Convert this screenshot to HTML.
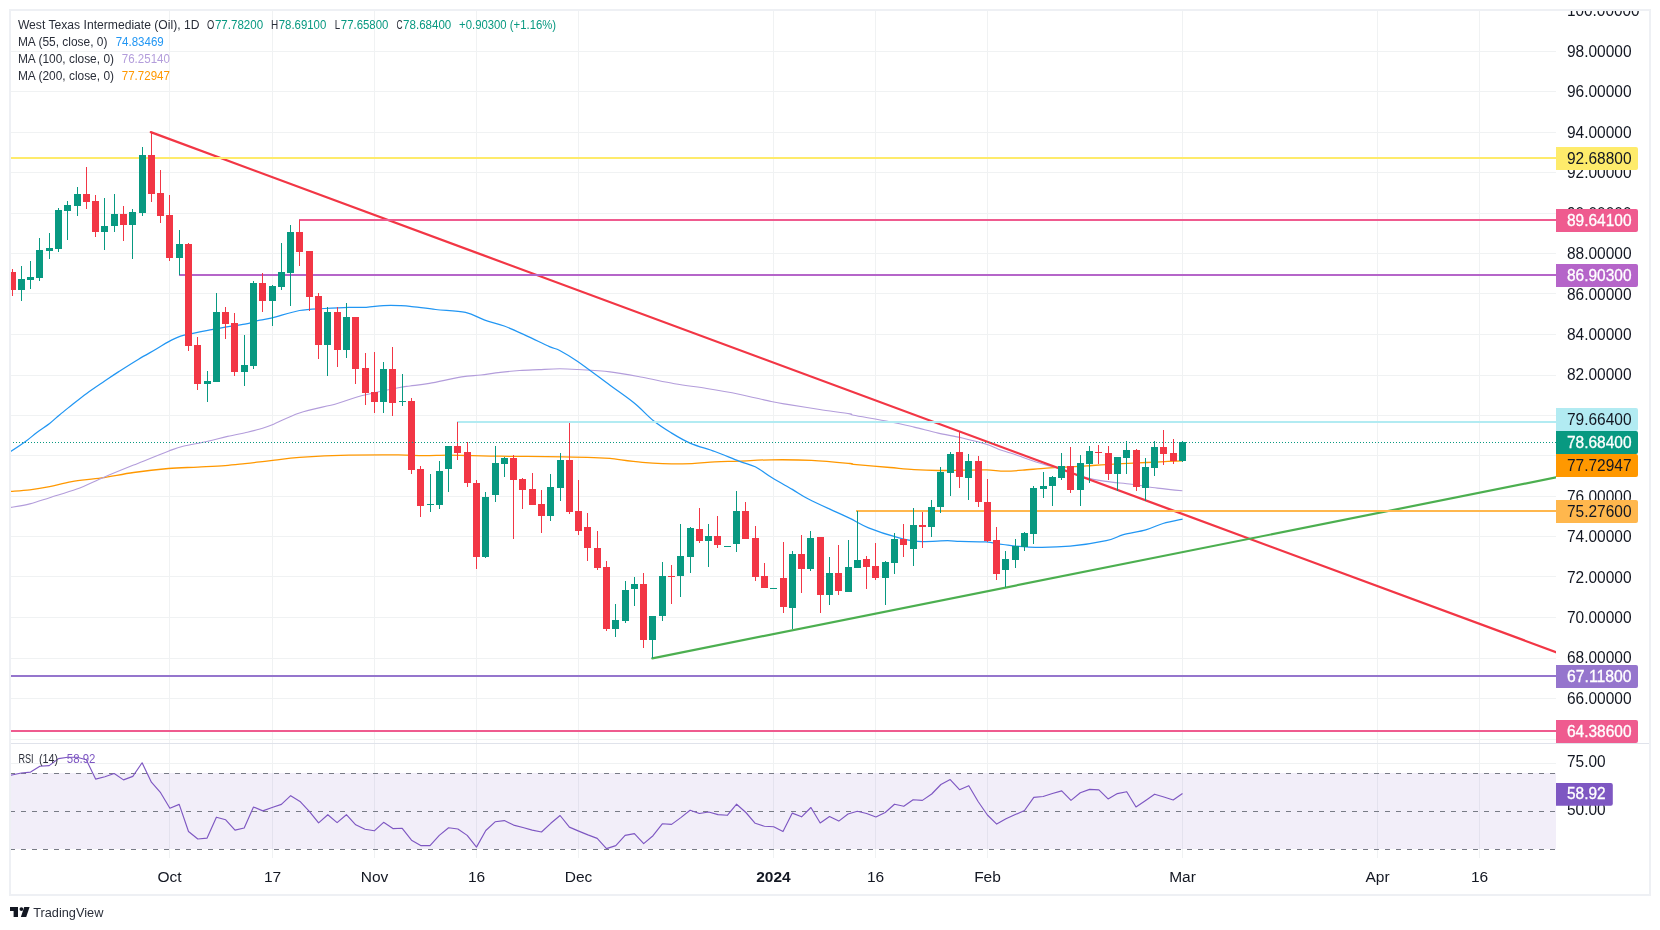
<!DOCTYPE html><html><head><meta charset="utf-8"><style>html,body{margin:0;padding:0;background:#fff;width:1660px;height:930px;overflow:hidden}svg{display:block;will-change:transform}text{font-family:"Liberation Sans", sans-serif}</style></head><body>
<svg width="1660" height="930" viewBox="0 0 1660 930" shape-rendering="crispEdges">
<rect x="0" y="0" width="1660" height="930" fill="#ffffff"/>
<defs>
<clipPath id="cpMain"><rect x="11" y="11" width="1545" height="732"/></clipPath>
<clipPath id="cpAxis"><rect x="1556" y="11" width="93" height="732"/></clipPath>
<clipPath id="cpRsi"><rect x="11" y="744" width="1545" height="114"/></clipPath>
</defs>
<rect x="11" y="739" width="1545" height="1" fill="#f0f2f3"/><rect x="11" y="698" width="1545" height="1" fill="#f0f2f3"/><rect x="11" y="658" width="1545" height="1" fill="#f0f2f3"/><rect x="11" y="617" width="1545" height="1" fill="#f0f2f3"/><rect x="11" y="576" width="1545" height="1" fill="#f0f2f3"/><rect x="11" y="536" width="1545" height="1" fill="#f0f2f3"/><rect x="11" y="496" width="1545" height="1" fill="#f0f2f3"/><rect x="11" y="455" width="1545" height="1" fill="#f0f2f3"/><rect x="11" y="415" width="1545" height="1" fill="#f0f2f3"/><rect x="11" y="375" width="1545" height="1" fill="#f0f2f3"/><rect x="11" y="334" width="1545" height="1" fill="#f0f2f3"/><rect x="11" y="293" width="1545" height="1" fill="#f0f2f3"/><rect x="11" y="253" width="1545" height="1" fill="#f0f2f3"/><rect x="11" y="213" width="1545" height="1" fill="#f0f2f3"/><rect x="11" y="172" width="1545" height="1" fill="#f0f2f3"/><rect x="11" y="132" width="1545" height="1" fill="#f0f2f3"/><rect x="11" y="91" width="1545" height="1" fill="#f0f2f3"/><rect x="11" y="51" width="1545" height="1" fill="#f0f2f3"/><rect x="169" y="11" width="1" height="732" fill="#f0f2f3"/><rect x="169" y="744" width="1" height="114" fill="#f0f2f3"/><rect x="272" y="11" width="1" height="732" fill="#f0f2f3"/><rect x="272" y="744" width="1" height="114" fill="#f0f2f3"/><rect x="374" y="11" width="1" height="732" fill="#f0f2f3"/><rect x="374" y="744" width="1" height="114" fill="#f0f2f3"/><rect x="476" y="11" width="1" height="732" fill="#f0f2f3"/><rect x="476" y="744" width="1" height="114" fill="#f0f2f3"/><rect x="578" y="11" width="1" height="732" fill="#f0f2f3"/><rect x="578" y="744" width="1" height="114" fill="#f0f2f3"/><rect x="773" y="11" width="1" height="732" fill="#f0f2f3"/><rect x="773" y="744" width="1" height="114" fill="#f0f2f3"/><rect x="875" y="11" width="1" height="732" fill="#f0f2f3"/><rect x="875" y="744" width="1" height="114" fill="#f0f2f3"/><rect x="987" y="11" width="1" height="732" fill="#f0f2f3"/><rect x="987" y="744" width="1" height="114" fill="#f0f2f3"/><rect x="1182" y="11" width="1" height="732" fill="#f0f2f3"/><rect x="1182" y="744" width="1" height="114" fill="#f0f2f3"/><rect x="1377" y="11" width="1" height="732" fill="#f0f2f3"/><rect x="1377" y="744" width="1" height="114" fill="#f0f2f3"/><rect x="1479" y="11" width="1" height="732" fill="#f0f2f3"/><rect x="1479" y="744" width="1" height="114" fill="#f0f2f3"/><rect x="11" y="763" width="1545" height="1" fill="#f0f2f3"/>
<g clip-path="url(#cpMain)">
<g shape-rendering="geometricPrecision" fill="none" stroke-linejoin="round">
<path d="M10.0,491.5 C13.3,491.2 23.2,490.6 29.8,489.8 C36.4,489.0 42.6,488.0 49.6,486.6 C56.6,485.2 63.1,483.1 71.8,481.6 C80.5,480.2 91.2,479.4 101.5,477.9 C111.8,476.4 122.5,474.1 133.6,472.5 C144.7,470.9 157.6,469.4 168.3,468.5 C179.0,467.6 188.4,467.6 197.9,467.1 C207.4,466.6 217.3,466.2 225.1,465.6 C232.9,465.0 239.1,464.2 244.9,463.6 C250.7,463.0 255.0,462.5 260.0,461.9 C265.0,461.3 268.1,460.9 274.7,460.1 C281.3,459.4 287.1,458.2 299.5,457.4 C311.9,456.6 332.4,455.6 348.9,455.2 C365.4,454.8 386.0,454.8 398.4,454.9 C410.8,455.0 414.9,455.6 423.1,455.7 C431.3,455.8 439.6,455.2 447.8,455.2 C456.1,455.2 463.9,455.5 472.6,455.7 C481.3,455.9 490.9,456.1 500.0,456.2 C509.1,456.3 516.4,456.3 527.1,456.4 C537.8,456.5 553.1,456.7 564.2,456.9 C575.3,457.1 586.3,457.4 593.9,457.7 C601.5,457.9 601.9,457.6 610.0,458.4 C618.1,459.2 630.2,461.4 642.3,462.3 C654.4,463.2 670.5,464.0 682.6,463.9 C694.7,463.8 705.4,462.4 714.8,461.9 C724.2,461.4 729.6,461.5 739.0,461.1 C748.4,460.8 759.2,459.9 771.3,459.8 C783.4,459.7 798.5,459.7 811.6,460.3 C824.7,460.9 843.0,462.8 850.0,463.5 C857.0,464.2 846.9,463.6 853.6,464.3 C860.3,465.0 879.9,466.6 890.0,467.5 C900.1,468.4 906.1,469.1 914.1,469.6 C922.1,470.1 930.2,470.4 938.2,470.5 C946.2,470.6 954.3,470.3 962.3,470.2 C970.3,470.1 979.4,469.8 986.4,469.9 C993.4,470.0 998.5,471.1 1004.5,471.1 C1010.5,471.2 1015.5,470.7 1022.5,470.2 C1029.5,469.7 1038.0,468.7 1046.6,468.1 C1055.2,467.5 1066.7,467.1 1074.3,466.7 C1081.9,466.3 1086.4,465.9 1092.4,465.5 C1098.4,465.1 1104.5,464.7 1110.5,464.3 C1116.5,463.9 1122.6,463.6 1128.6,463.3 C1134.6,463.0 1140.6,462.8 1146.6,462.5 C1152.6,462.2 1158.7,461.9 1164.7,461.6 C1170.7,461.3 1179.5,461.0 1182.4,460.9" stroke="#ff9800" stroke-width="1.3"/>
<path d="M10.0,507.6 C13.3,507.0 23.2,505.5 29.8,503.9 C36.4,502.2 41.8,500.2 49.6,497.7 C57.4,495.2 67.7,492.5 76.8,489.1 C85.9,485.7 94.5,481.2 104.0,477.2 C113.5,473.2 122.9,469.4 133.6,465.1 C144.3,460.8 160.1,454.3 168.3,451.2 C176.6,448.1 176.5,447.9 183.1,446.3 C189.7,444.7 200.4,443.0 207.8,441.3 C215.2,439.6 221.0,437.9 227.6,436.4 C234.2,434.9 242.0,433.4 247.4,432.2 C252.8,431.0 255.8,430.2 260.0,429.0 C264.1,427.8 265.7,427.5 272.3,424.8 C278.9,422.1 288.8,416.4 299.5,412.9 C310.2,409.4 326.2,406.5 336.5,403.7 C346.8,400.9 351.0,398.5 361.3,395.8 C371.6,393.1 390.3,389.3 398.4,387.7 C406.5,386.1 404.8,386.7 410.0,386.0 C415.2,385.3 420.8,384.9 429.4,383.4 C438.0,381.9 453.0,378.3 461.6,376.9 C470.2,375.5 474.6,375.8 481.0,375.0 C487.4,374.2 493.9,373.1 500.3,372.4 C506.8,371.6 513.2,371.0 519.7,370.5 C526.2,370.0 532.3,369.9 539.0,369.6 C545.7,369.3 553.2,368.8 559.7,368.8 C566.2,368.8 569.3,369.0 577.7,369.5 C586.1,370.0 599.2,370.6 610.0,371.9 C620.8,373.2 631.5,375.3 642.3,377.3 C653.0,379.3 663.8,381.8 674.5,383.7 C685.2,385.6 696.0,386.8 706.8,388.5 C717.5,390.2 728.2,392.0 739.0,394.2 C749.8,396.4 763.2,399.8 771.3,401.5 C779.4,403.2 779.3,403.1 787.4,404.4 C795.5,405.7 809.3,407.9 819.7,409.5 C830.1,411.1 844.4,412.9 850.0,413.9 C855.6,414.9 846.9,414.0 853.6,415.3 C860.3,416.6 879.9,419.7 890.0,421.7 C900.1,423.7 906.1,425.2 914.1,427.1 C922.1,429.0 930.2,431.3 938.2,433.1 C946.2,434.9 954.3,436.1 962.3,438.0 C970.3,439.9 980.4,442.4 986.4,444.3 C992.4,446.2 994.4,447.8 998.4,449.2 C1002.4,450.6 1006.5,451.7 1010.5,453.0 C1014.5,454.3 1018.5,455.8 1022.5,457.2 C1026.5,458.6 1030.6,460.1 1034.6,461.4 C1038.6,462.7 1042.6,463.9 1046.6,465.1 C1050.6,466.3 1052.5,466.4 1058.7,468.4 C1064.9,470.4 1076.1,474.9 1083.9,477.1 C1091.8,479.3 1097.8,480.2 1105.8,481.4 C1113.8,482.6 1123.0,483.1 1131.6,484.2 C1140.2,485.3 1148.9,487.0 1157.4,488.1 C1165.9,489.2 1178.2,490.4 1182.4,490.8" stroke="#b39ddb" stroke-width="1.1"/>
<path d="M10.0,452.0 C12.5,450.4 20.3,445.4 24.8,442.1 C29.3,438.8 33.1,435.3 37.2,432.2 C41.3,429.1 45.9,426.4 49.6,423.5 C53.3,420.6 55.8,418.0 59.5,414.9 C63.2,411.8 67.3,408.6 71.8,405.0 C76.3,401.4 81.3,397.3 86.7,393.4 C92.1,389.5 98.7,385.1 104.0,381.5 C109.3,377.9 113.0,375.3 118.8,371.6 C124.6,367.9 132.4,362.9 138.6,359.2 C144.8,355.5 150.9,352.2 155.9,349.3 C160.9,346.4 164.2,344.1 168.3,341.9 C172.4,339.7 176.5,337.6 180.6,336.2 C184.7,334.8 188.5,334.3 193.0,333.3 C197.5,332.3 202.5,331.3 207.8,330.3 C213.2,329.3 218.9,328.1 225.1,327.1 C231.3,326.1 239.1,325.2 244.9,324.1 C250.7,323.0 255.4,321.2 260.0,320.2 C264.6,319.2 265.7,319.5 272.3,317.9 C278.9,316.3 290.9,312.1 299.5,310.5 C308.1,308.9 316.0,309.0 324.2,308.5 C332.4,308.0 341.9,307.5 348.9,307.3 C355.9,307.1 360.4,307.6 366.2,307.3 C372.0,307.0 377.7,305.9 383.5,305.6 C389.3,305.3 396.4,305.5 400.8,305.6 C405.2,305.7 404.2,305.8 410.0,306.4 C415.8,307.0 426.6,308.5 435.8,309.5 C445.1,310.5 457.3,310.6 465.5,312.4 C473.7,314.2 478.4,317.9 484.8,320.2 C491.2,322.5 497.3,323.4 504.2,326.0 C511.1,328.6 518.6,332.2 526.1,335.6 C533.6,339.0 543.8,344.1 549.4,346.6 C555.0,349.1 555.0,348.0 559.7,350.5 C564.4,353.0 569.3,355.7 577.7,361.5 C586.1,367.3 600.6,378.4 610.0,385.3 C619.4,392.2 627.0,397.2 634.2,403.1 C641.5,409.0 647.3,415.8 653.5,420.8 C659.7,425.8 665.1,429.1 671.3,432.9 C677.5,436.7 683.4,440.3 690.6,443.4 C697.9,446.5 706.7,448.6 714.8,451.5 C722.9,454.4 732.3,458.6 739.0,461.1 C745.7,463.7 749.8,464.1 755.2,466.8 C760.6,469.5 765.1,473.5 771.3,477.3 C777.5,481.1 786.1,485.8 792.3,489.4 C798.5,493.0 801.1,495.2 808.4,499.0 C815.6,502.8 828.9,508.7 835.8,511.9 C842.7,515.1 844.5,515.8 850.0,518.4 C855.5,521.0 860.5,524.6 868.5,527.8 C876.5,531.0 890.0,535.4 898.2,537.7 C906.4,540.0 909.7,540.9 917.9,541.4 C926.1,541.9 940.6,540.7 947.6,540.7 C954.6,540.7 953.6,541.2 960.0,541.4 C966.4,541.6 978.6,541.4 985.8,541.9 C993.0,542.4 995.8,543.6 1003.0,544.5 C1010.2,545.4 1017.6,546.8 1028.8,547.1 C1040.0,547.4 1057.2,547.3 1070.1,546.2 C1083.0,545.1 1097.3,542.6 1106.2,540.7 C1115.1,538.8 1116.8,536.5 1123.4,534.7 C1130.0,532.9 1139.2,531.8 1145.8,529.9 C1152.4,528.0 1156.9,525.3 1163.0,523.5 C1169.1,521.7 1179.3,519.8 1182.6,519.1" stroke="#2196f3" stroke-width="1.25"/>
</g>
<g shape-rendering="geometricPrecision">
<line x1="150.8" y1="132.2" x2="1556" y2="652.2" stroke="#f23645" stroke-width="2.3" stroke-linecap="round"/>
<line x1="652.3" y1="658.3" x2="1556" y2="477.4" stroke="#4caf50" stroke-width="2.2" stroke-linecap="round"/>
</g>
<rect x="11" y="157" width="1545" height="2" fill="#feeb6b"/>
<rect x="299" y="219" width="1257" height="2" fill="#ef5b8f"/>
<rect x="179" y="274" width="1377" height="2" fill="#b565c9"/>
<rect x="457" y="421" width="1099" height="2" fill="#b2ebf2"/>
<rect x="856" y="510" width="700" height="2" fill="#ffb74d"/>
<rect x="11" y="675" width="1545" height="2" fill="#9575cd"/>
<rect x="11" y="730" width="1545" height="2" fill="#ef5b8f"/>
<rect x="12" y="269" width="1" height="27" fill="#f23645"/><rect x="9" y="272" width="7" height="18" fill="#f23645"/><rect x="21" y="266" width="1" height="35" fill="#089981"/><rect x="18" y="279" width="7" height="11" fill="#089981"/><rect x="30" y="261" width="1" height="28" fill="#089981"/><rect x="27" y="277" width="7" height="3" fill="#089981"/><rect x="39" y="238" width="1" height="43" fill="#089981"/><rect x="36" y="250" width="7" height="28" fill="#089981"/><rect x="49" y="233" width="1" height="26" fill="#089981"/><rect x="46" y="248" width="7" height="3" fill="#089981"/><rect x="58" y="208" width="1" height="44" fill="#089981"/><rect x="55" y="210" width="7" height="39" fill="#089981"/><rect x="67" y="201" width="1" height="39" fill="#089981"/><rect x="64" y="205" width="7" height="6" fill="#089981"/><rect x="77" y="187" width="1" height="29" fill="#089981"/><rect x="74" y="194" width="7" height="12" fill="#089981"/><rect x="86" y="167" width="1" height="42" fill="#f23645"/><rect x="83" y="194" width="7" height="8" fill="#f23645"/><rect x="95" y="195" width="1" height="42" fill="#f23645"/><rect x="92" y="201" width="7" height="31" fill="#f23645"/><rect x="104" y="198" width="1" height="52" fill="#089981"/><rect x="101" y="226" width="7" height="6" fill="#089981"/><rect x="114" y="194" width="1" height="38" fill="#089981"/><rect x="111" y="214" width="7" height="12" fill="#089981"/><rect x="123" y="206" width="1" height="35" fill="#f23645"/><rect x="120" y="214" width="7" height="11" fill="#f23645"/><rect x="132" y="209" width="1" height="50" fill="#089981"/><rect x="129" y="212" width="7" height="13" fill="#089981"/><rect x="142" y="147" width="1" height="69" fill="#089981"/><rect x="139" y="155" width="7" height="58" fill="#089981"/><rect x="151" y="132" width="1" height="70" fill="#f23645"/><rect x="148" y="155" width="7" height="39" fill="#f23645"/><rect x="160" y="170" width="1" height="53" fill="#f23645"/><rect x="157" y="193" width="7" height="23" fill="#f23645"/><rect x="169" y="195" width="1" height="66" fill="#f23645"/><rect x="166" y="215" width="7" height="43" fill="#f23645"/><rect x="179" y="230" width="1" height="45" fill="#089981"/><rect x="176" y="244" width="7" height="14" fill="#089981"/><rect x="188" y="243" width="1" height="108" fill="#f23645"/><rect x="185" y="244" width="7" height="102" fill="#f23645"/><rect x="197" y="337" width="1" height="53" fill="#f23645"/><rect x="194" y="345" width="7" height="39" fill="#f23645"/><rect x="207" y="371" width="1" height="31" fill="#089981"/><rect x="204" y="381" width="7" height="3" fill="#089981"/><rect x="216" y="293" width="1" height="89" fill="#089981"/><rect x="213" y="312" width="7" height="70" fill="#089981"/><rect x="225" y="307" width="1" height="32" fill="#f23645"/><rect x="222" y="312" width="7" height="12" fill="#f23645"/><rect x="234" y="313" width="1" height="63" fill="#f23645"/><rect x="231" y="323" width="7" height="49" fill="#f23645"/><rect x="244" y="335" width="1" height="51" fill="#089981"/><rect x="241" y="365" width="7" height="7" fill="#089981"/><rect x="253" y="281" width="1" height="88" fill="#089981"/><rect x="250" y="283" width="7" height="83" fill="#089981"/><rect x="262" y="273" width="1" height="39" fill="#f23645"/><rect x="259" y="283" width="7" height="18" fill="#f23645"/><rect x="272" y="285" width="1" height="41" fill="#089981"/><rect x="269" y="286" width="7" height="15" fill="#089981"/><rect x="281" y="243" width="1" height="47" fill="#089981"/><rect x="278" y="272" width="7" height="15" fill="#089981"/><rect x="290" y="225" width="1" height="81" fill="#089981"/><rect x="287" y="232" width="7" height="41" fill="#089981"/><rect x="299" y="220" width="1" height="46" fill="#f23645"/><rect x="296" y="232" width="7" height="20" fill="#f23645"/><rect x="309" y="251" width="1" height="60" fill="#f23645"/><rect x="306" y="251" width="7" height="46" fill="#f23645"/><rect x="318" y="293" width="1" height="66" fill="#f23645"/><rect x="315" y="296" width="7" height="49" fill="#f23645"/><rect x="327" y="307" width="1" height="69" fill="#089981"/><rect x="324" y="312" width="7" height="33" fill="#089981"/><rect x="337" y="307" width="1" height="60" fill="#f23645"/><rect x="334" y="312" width="7" height="38" fill="#f23645"/><rect x="346" y="303" width="1" height="55" fill="#089981"/><rect x="343" y="317" width="7" height="33" fill="#089981"/><rect x="355" y="317" width="1" height="67" fill="#f23645"/><rect x="352" y="317" width="7" height="52" fill="#f23645"/><rect x="365" y="353" width="1" height="52" fill="#f23645"/><rect x="362" y="368" width="7" height="25" fill="#f23645"/><rect x="374" y="352" width="1" height="61" fill="#f23645"/><rect x="371" y="392" width="7" height="10" fill="#f23645"/><rect x="383" y="362" width="1" height="51" fill="#089981"/><rect x="380" y="369" width="7" height="33" fill="#089981"/><rect x="392" y="347" width="1" height="69" fill="#f23645"/><rect x="389" y="369" width="7" height="34" fill="#f23645"/><rect x="402" y="374" width="1" height="32" fill="#089981"/><rect x="399" y="401" width="7" height="1" fill="#089981"/><rect x="411" y="398" width="1" height="76" fill="#f23645"/><rect x="408" y="401" width="7" height="69" fill="#f23645"/><rect x="420" y="466" width="1" height="51" fill="#f23645"/><rect x="417" y="469" width="7" height="37" fill="#f23645"/><rect x="430" y="474" width="1" height="38" fill="#089981"/><rect x="427" y="504" width="7" height="1" fill="#089981"/><rect x="439" y="461" width="1" height="48" fill="#089981"/><rect x="436" y="471" width="7" height="34" fill="#089981"/><rect x="448" y="446" width="1" height="46" fill="#089981"/><rect x="445" y="446" width="7" height="23" fill="#089981"/><rect x="457" y="422" width="1" height="38" fill="#f23645"/><rect x="454" y="446" width="7" height="7" fill="#f23645"/><rect x="467" y="442" width="1" height="45" fill="#f23645"/><rect x="464" y="452" width="7" height="31" fill="#f23645"/><rect x="476" y="480" width="1" height="89" fill="#f23645"/><rect x="473" y="483" width="7" height="74" fill="#f23645"/><rect x="485" y="492" width="1" height="66" fill="#089981"/><rect x="482" y="497" width="7" height="60" fill="#089981"/><rect x="495" y="446" width="1" height="56" fill="#089981"/><rect x="492" y="463" width="7" height="32" fill="#089981"/><rect x="504" y="457" width="1" height="20" fill="#089981"/><rect x="501" y="458" width="7" height="6" fill="#089981"/><rect x="513" y="455" width="1" height="84" fill="#f23645"/><rect x="510" y="458" width="7" height="22" fill="#f23645"/><rect x="522" y="478" width="1" height="31" fill="#f23645"/><rect x="519" y="479" width="7" height="11" fill="#f23645"/><rect x="532" y="473" width="1" height="32" fill="#f23645"/><rect x="529" y="489" width="7" height="16" fill="#f23645"/><rect x="541" y="490" width="1" height="43" fill="#f23645"/><rect x="538" y="504" width="7" height="12" fill="#f23645"/><rect x="550" y="474" width="1" height="47" fill="#089981"/><rect x="547" y="487" width="7" height="29" fill="#089981"/><rect x="560" y="453" width="1" height="48" fill="#089981"/><rect x="557" y="460" width="7" height="28" fill="#089981"/><rect x="569" y="423" width="1" height="91" fill="#f23645"/><rect x="566" y="460" width="7" height="52" fill="#f23645"/><rect x="578" y="480" width="1" height="55" fill="#f23645"/><rect x="575" y="511" width="7" height="20" fill="#f23645"/><rect x="587" y="513" width="1" height="48" fill="#f23645"/><rect x="584" y="527" width="7" height="21" fill="#f23645"/><rect x="597" y="531" width="1" height="39" fill="#f23645"/><rect x="594" y="548" width="7" height="20" fill="#f23645"/><rect x="606" y="561" width="1" height="70" fill="#f23645"/><rect x="603" y="567" width="7" height="62" fill="#f23645"/><rect x="615" y="604" width="1" height="33" fill="#089981"/><rect x="612" y="620" width="7" height="9" fill="#089981"/><rect x="625" y="581" width="1" height="42" fill="#089981"/><rect x="622" y="590" width="7" height="31" fill="#089981"/><rect x="634" y="577" width="1" height="29" fill="#089981"/><rect x="631" y="584" width="7" height="5" fill="#089981"/><rect x="643" y="573" width="1" height="75" fill="#f23645"/><rect x="640" y="584" width="7" height="56" fill="#f23645"/><rect x="652" y="616" width="1" height="42" fill="#089981"/><rect x="649" y="616" width="7" height="24" fill="#089981"/><rect x="662" y="562" width="1" height="59" fill="#089981"/><rect x="659" y="576" width="7" height="40" fill="#089981"/><rect x="671" y="565" width="1" height="39" fill="#f23645"/><rect x="668" y="576" width="7" height="1" fill="#f23645"/><rect x="680" y="524" width="1" height="73" fill="#089981"/><rect x="677" y="556" width="7" height="20" fill="#089981"/><rect x="690" y="527" width="1" height="46" fill="#089981"/><rect x="687" y="528" width="7" height="29" fill="#089981"/><rect x="699" y="508" width="1" height="35" fill="#f23645"/><rect x="696" y="529" width="7" height="12" fill="#f23645"/><rect x="708" y="524" width="1" height="43" fill="#089981"/><rect x="705" y="536" width="7" height="5" fill="#089981"/><rect x="717" y="516" width="1" height="32" fill="#f23645"/><rect x="714" y="536" width="7" height="9" fill="#f23645"/><rect x="724" y="546" width="7" height="1" fill="#089981"/><rect x="736" y="491" width="1" height="61" fill="#089981"/><rect x="733" y="511" width="7" height="33" fill="#089981"/><rect x="745" y="502" width="1" height="37" fill="#f23645"/><rect x="742" y="511" width="7" height="28" fill="#f23645"/><rect x="755" y="526" width="1" height="55" fill="#f23645"/><rect x="752" y="538" width="7" height="39" fill="#f23645"/><rect x="764" y="563" width="1" height="25" fill="#f23645"/><rect x="761" y="576" width="7" height="12" fill="#f23645"/><rect x="770" y="588" width="7" height="1" fill="#089981"/><rect x="783" y="542" width="1" height="71" fill="#f23645"/><rect x="780" y="578" width="7" height="29" fill="#f23645"/><rect x="792" y="551" width="1" height="78" fill="#089981"/><rect x="789" y="554" width="7" height="54" fill="#089981"/><rect x="801" y="535" width="1" height="58" fill="#f23645"/><rect x="798" y="554" width="7" height="15" fill="#f23645"/><rect x="810" y="531" width="1" height="40" fill="#089981"/><rect x="807" y="538" width="7" height="31" fill="#089981"/><rect x="820" y="537" width="1" height="76" fill="#f23645"/><rect x="817" y="537" width="7" height="58" fill="#f23645"/><rect x="829" y="557" width="1" height="48" fill="#089981"/><rect x="826" y="573" width="7" height="22" fill="#089981"/><rect x="838" y="545" width="1" height="50" fill="#f23645"/><rect x="835" y="573" width="7" height="18" fill="#f23645"/><rect x="848" y="540" width="1" height="52" fill="#089981"/><rect x="845" y="567" width="7" height="25" fill="#089981"/><rect x="857" y="511" width="1" height="57" fill="#089981"/><rect x="854" y="560" width="7" height="8" fill="#089981"/><rect x="866" y="556" width="1" height="33" fill="#f23645"/><rect x="863" y="559" width="7" height="8" fill="#f23645"/><rect x="875" y="543" width="1" height="37" fill="#f23645"/><rect x="872" y="566" width="7" height="12" fill="#f23645"/><rect x="885" y="561" width="1" height="44" fill="#089981"/><rect x="882" y="562" width="7" height="16" fill="#089981"/><rect x="894" y="533" width="1" height="41" fill="#089981"/><rect x="891" y="539" width="7" height="24" fill="#089981"/><rect x="903" y="524" width="1" height="33" fill="#f23645"/><rect x="900" y="539" width="7" height="6" fill="#f23645"/><rect x="913" y="508" width="1" height="58" fill="#089981"/><rect x="910" y="525" width="7" height="24" fill="#089981"/><rect x="922" y="512" width="1" height="36" fill="#f23645"/><rect x="919" y="525" width="7" height="2" fill="#f23645"/><rect x="931" y="500" width="1" height="37" fill="#089981"/><rect x="928" y="507" width="7" height="20" fill="#089981"/><rect x="940" y="467" width="1" height="46" fill="#089981"/><rect x="937" y="472" width="7" height="35" fill="#089981"/><rect x="950" y="452" width="1" height="44" fill="#089981"/><rect x="947" y="454" width="7" height="19" fill="#089981"/><rect x="959" y="432" width="1" height="56" fill="#f23645"/><rect x="956" y="452" width="7" height="25" fill="#f23645"/><rect x="968" y="454" width="1" height="46" fill="#089981"/><rect x="965" y="461" width="7" height="17" fill="#089981"/><rect x="978" y="456" width="1" height="51" fill="#f23645"/><rect x="975" y="461" width="7" height="41" fill="#f23645"/><rect x="987" y="479" width="1" height="63" fill="#f23645"/><rect x="984" y="502" width="7" height="39" fill="#f23645"/><rect x="996" y="527" width="1" height="53" fill="#f23645"/><rect x="993" y="540" width="7" height="34" fill="#f23645"/><rect x="1005" y="551" width="1" height="36" fill="#089981"/><rect x="1002" y="559" width="7" height="11" fill="#089981"/><rect x="1015" y="539" width="1" height="29" fill="#089981"/><rect x="1012" y="546" width="7" height="14" fill="#089981"/><rect x="1024" y="532" width="1" height="19" fill="#089981"/><rect x="1021" y="533" width="7" height="14" fill="#089981"/><rect x="1033" y="486" width="1" height="58" fill="#089981"/><rect x="1030" y="488" width="7" height="46" fill="#089981"/><rect x="1043" y="472" width="1" height="26" fill="#089981"/><rect x="1040" y="486" width="7" height="3" fill="#089981"/><rect x="1052" y="476" width="1" height="30" fill="#089981"/><rect x="1049" y="477" width="7" height="9" fill="#089981"/><rect x="1061" y="453" width="1" height="27" fill="#089981"/><rect x="1058" y="466" width="7" height="12" fill="#089981"/><rect x="1070" y="447" width="1" height="46" fill="#f23645"/><rect x="1067" y="466" width="7" height="24" fill="#f23645"/><rect x="1080" y="455" width="1" height="51" fill="#089981"/><rect x="1077" y="463" width="7" height="27" fill="#089981"/><rect x="1089" y="446" width="1" height="37" fill="#089981"/><rect x="1086" y="451" width="7" height="13" fill="#089981"/><rect x="1098" y="445" width="1" height="19" fill="#f23645"/><rect x="1095" y="452" width="7" height="1" fill="#f23645"/><rect x="1108" y="446" width="1" height="34" fill="#f23645"/><rect x="1105" y="453" width="7" height="21" fill="#f23645"/><rect x="1117" y="457" width="1" height="34" fill="#089981"/><rect x="1114" y="457" width="7" height="17" fill="#089981"/><rect x="1126" y="441" width="1" height="33" fill="#089981"/><rect x="1123" y="450" width="7" height="8" fill="#089981"/><rect x="1136" y="449" width="1" height="42" fill="#f23645"/><rect x="1133" y="450" width="7" height="37" fill="#f23645"/><rect x="1145" y="458" width="1" height="43" fill="#089981"/><rect x="1142" y="467" width="7" height="21" fill="#089981"/><rect x="1154" y="441" width="1" height="35" fill="#089981"/><rect x="1151" y="447" width="7" height="21" fill="#089981"/><rect x="1163" y="430" width="1" height="35" fill="#f23645"/><rect x="1160" y="447" width="7" height="7" fill="#f23645"/><rect x="1173" y="439" width="1" height="25" fill="#f23645"/><rect x="1170" y="453" width="7" height="8" fill="#f23645"/><rect x="1182" y="441" width="1" height="21" fill="#089981"/><rect x="1179" y="442" width="7" height="19" fill="#089981"/>
<line x1="10" y1="442.5" x2="1556" y2="442.5" stroke="#089981" stroke-width="1" stroke-dasharray="1 2"/>
<g shape-rendering="geometricPrecision">
<text x="17.9" y="28.8" font-size="12" fill="#2a2e39" font-weight="normal" text-anchor="start" textLength="181.6" lengthAdjust="spacingAndGlyphs">West Texas Intermediate (Oil), 1D</text>
<text x="207" y="28.8" font-size="12" fill="#2a2e39" font-weight="normal" text-anchor="start" textLength="7.3" lengthAdjust="spacingAndGlyphs">O</text>
<text x="214.9" y="28.8" font-size="12" fill="#089981" font-weight="normal" text-anchor="start" textLength="48.2" lengthAdjust="spacingAndGlyphs">77.78200</text>
<text x="270.9" y="28.8" font-size="12" fill="#2a2e39" font-weight="normal" text-anchor="start" textLength="7.2" lengthAdjust="spacingAndGlyphs">H</text>
<text x="278.7" y="28.8" font-size="12" fill="#089981" font-weight="normal" text-anchor="start" textLength="47.6" lengthAdjust="spacingAndGlyphs">78.69100</text>
<text x="334.8" y="28.8" font-size="12" fill="#2a2e39" font-weight="normal" text-anchor="start" textLength="5.4" lengthAdjust="spacingAndGlyphs">L</text>
<text x="340.8" y="28.8" font-size="12" fill="#089981" font-weight="normal" text-anchor="start" textLength="47.6" lengthAdjust="spacingAndGlyphs">77.65800</text>
<text x="396.4" y="28.8" font-size="12" fill="#2a2e39" font-weight="normal" text-anchor="start" textLength="6.1" lengthAdjust="spacingAndGlyphs">C</text>
<text x="403.1" y="28.8" font-size="12" fill="#089981" font-weight="normal" text-anchor="start" textLength="48.2" lengthAdjust="spacingAndGlyphs">78.68400</text>
<text x="459.1" y="28.8" font-size="12" fill="#089981" font-weight="normal" text-anchor="start" textLength="97" lengthAdjust="spacingAndGlyphs">+0.90300 (+1.16%)</text>
<text x="17.9" y="45.6" font-size="12" fill="#2a2e39" font-weight="normal" text-anchor="start" textLength="89.5" lengthAdjust="spacingAndGlyphs">MA (55, close, 0)</text>
<text x="115.7" y="45.6" font-size="12" fill="#2196f3" font-weight="normal" text-anchor="start" textLength="48" lengthAdjust="spacingAndGlyphs">74.83469</text>
<text x="17.9" y="62.8" font-size="12" fill="#2a2e39" font-weight="normal" text-anchor="start" textLength="96.1" lengthAdjust="spacingAndGlyphs">MA (100, close, 0)</text>
<text x="121.8" y="62.8" font-size="12" fill="#b39ddb" font-weight="normal" text-anchor="start" textLength="48.1" lengthAdjust="spacingAndGlyphs">76.25140</text>
<text x="17.9" y="79.6" font-size="12" fill="#2a2e39" font-weight="normal" text-anchor="start" textLength="96.1" lengthAdjust="spacingAndGlyphs">MA (200, close, 0)</text>
<text x="121.8" y="79.6" font-size="12" fill="#ff9800" font-weight="normal" text-anchor="start" textLength="48.1" lengthAdjust="spacingAndGlyphs">77.72947</text>
</g>
</g>
<g clip-path="url(#cpRsi)">
<rect x="11" y="773" width="1545" height="76" fill="#7e57c2" fill-opacity="0.1"/>
<line x1="10" y1="773.5" x2="1556" y2="773.5" stroke="#787b86" stroke-width="1" stroke-dasharray="5 6"/>
<line x1="10" y1="811.5" x2="1556" y2="811.5" stroke="#787b86" stroke-width="1" stroke-dasharray="5 6"/>
<line x1="10" y1="849.5" x2="1556" y2="849.5" stroke="#787b86" stroke-width="1" stroke-dasharray="5 6"/>
<polyline points="2.7,776.0 12.0,775.0 21.3,773.0 30.6,772.1 39.9,766.3 49.2,765.6 58.5,758.6 67.7,757.2 77.0,757.2 86.3,759.8 95.6,779.1 104.9,776.8 114.2,773.5 123.5,779.9 132.8,776.4 142.1,762.8 151.4,782.2 160.6,792.7 169.9,808.2 179.2,804.4 188.5,831.5 197.8,839.0 207.1,838.1 216.4,817.2 225.7,819.8 235.0,830.1 244.2,828.0 253.5,807.0 262.8,810.9 272.1,807.5 281.4,804.4 290.7,795.7 300.0,801.4 309.3,811.3 318.6,822.9 327.8,814.7 337.1,822.6 346.4,814.7 355.7,824.8 365.0,829.3 374.3,830.8 383.6,822.3 392.9,828.6 402.2,828.3 411.5,840.2 420.7,845.6 430.0,845.6 439.3,835.4 448.6,827.8 457.9,829.0 467.2,835.4 476.5,847.1 485.8,830.5 495.1,821.8 504.3,820.6 513.6,825.1 522.9,827.5 532.2,830.1 541.5,832.0 550.8,823.3 560.1,815.5 569.4,827.1 578.7,831.1 587.9,834.9 597.2,838.4 606.5,848.6 615.8,845.6 625.1,835.4 634.4,833.6 643.7,843.6 653.0,835.7 662.3,823.8 671.6,824.4 680.8,817.6 690.1,810.2 699.4,813.5 708.7,812.0 718.0,814.6 727.3,815.3 736.6,804.2 745.9,812.5 755.2,823.3 764.4,826.3 773.7,826.8 783.0,831.6 792.3,813.1 801.6,816.8 810.9,807.5 820.2,823.0 829.5,816.5 838.8,821.1 848.0,814.0 857.3,811.3 866.6,813.5 875.9,817.0 885.2,812.5 894.5,804.2 903.8,806.3 913.1,799.7 922.4,800.4 931.7,794.0 940.9,784.5 950.2,779.6 959.5,789.7 968.8,785.7 978.1,801.5 987.4,815.0 996.7,824.1 1006.0,818.8 1015.3,814.6 1024.5,810.5 1033.8,797.4 1043.1,796.5 1052.4,793.5 1061.7,790.9 1071.0,800.4 1080.3,792.7 1089.6,789.4 1098.9,789.9 1108.1,798.9 1117.4,793.6 1126.7,791.7 1136.0,807.0 1145.3,800.7 1154.6,794.2 1163.9,797.0 1173.2,800.0 1182.5,793.5" fill="none" stroke="#7e57c2" stroke-width="1.15" stroke-linejoin="round" shape-rendering="geometricPrecision"/>
<g shape-rendering="geometricPrecision">
<text x="18.4" y="762.8" font-size="12" fill="#2a2e39" font-weight="normal" text-anchor="start" textLength="15.2" lengthAdjust="spacingAndGlyphs">RSI</text>
<text x="39.0" y="762.8" font-size="12" fill="#2a2e39" font-weight="normal" text-anchor="start" textLength="19.2" lengthAdjust="spacingAndGlyphs">(14)</text>
<text x="66.8" y="762.8" font-size="12" fill="#7e57c2" font-weight="normal" text-anchor="start" textLength="28.6" lengthAdjust="spacingAndGlyphs">58.92</text>
</g>
</g>
<rect x="11" y="743" width="1638" height="1" fill="#e0e3eb"/>
<g shape-rendering="geometricPrecision" clip-path="url(#cpAxis)"><text x="1567" y="744.3" font-size="16.0" fill="#131722" font-weight="normal" text-anchor="start" textLength="64.5" lengthAdjust="spacingAndGlyphs">64.00000</text><text x="1567" y="703.9" font-size="16.0" fill="#131722" font-weight="normal" text-anchor="start" textLength="64.5" lengthAdjust="spacingAndGlyphs">66.00000</text><text x="1567" y="663.4" font-size="16.0" fill="#131722" font-weight="normal" text-anchor="start" textLength="64.5" lengthAdjust="spacingAndGlyphs">68.00000</text><text x="1567" y="623.0" font-size="16.0" fill="#131722" font-weight="normal" text-anchor="start" textLength="64.5" lengthAdjust="spacingAndGlyphs">70.00000</text><text x="1567" y="582.6" font-size="16.0" fill="#131722" font-weight="normal" text-anchor="start" textLength="64.5" lengthAdjust="spacingAndGlyphs">72.00000</text><text x="1567" y="542.1" font-size="16.0" fill="#131722" font-weight="normal" text-anchor="start" textLength="64.5" lengthAdjust="spacingAndGlyphs">74.00000</text><text x="1567" y="501.7" font-size="16.0" fill="#131722" font-weight="normal" text-anchor="start" textLength="64.5" lengthAdjust="spacingAndGlyphs">76.00000</text><text x="1567" y="461.2" font-size="16.0" fill="#131722" font-weight="normal" text-anchor="start" textLength="64.5" lengthAdjust="spacingAndGlyphs">78.00000</text><text x="1567" y="420.8" font-size="16.0" fill="#131722" font-weight="normal" text-anchor="start" textLength="64.5" lengthAdjust="spacingAndGlyphs">80.00000</text><text x="1567" y="380.4" font-size="16.0" fill="#131722" font-weight="normal" text-anchor="start" textLength="64.5" lengthAdjust="spacingAndGlyphs">82.00000</text><text x="1567" y="339.9" font-size="16.0" fill="#131722" font-weight="normal" text-anchor="start" textLength="64.5" lengthAdjust="spacingAndGlyphs">84.00000</text><text x="1567" y="299.5" font-size="16.0" fill="#131722" font-weight="normal" text-anchor="start" textLength="64.5" lengthAdjust="spacingAndGlyphs">86.00000</text><text x="1567" y="259.0" font-size="16.0" fill="#131722" font-weight="normal" text-anchor="start" textLength="64.5" lengthAdjust="spacingAndGlyphs">88.00000</text><text x="1567" y="218.6" font-size="16.0" fill="#131722" font-weight="normal" text-anchor="start" textLength="64.5" lengthAdjust="spacingAndGlyphs">90.00000</text><text x="1567" y="178.2" font-size="16.0" fill="#131722" font-weight="normal" text-anchor="start" textLength="64.5" lengthAdjust="spacingAndGlyphs">92.00000</text><text x="1567" y="137.7" font-size="16.0" fill="#131722" font-weight="normal" text-anchor="start" textLength="64.5" lengthAdjust="spacingAndGlyphs">94.00000</text><text x="1567" y="97.3" font-size="16.0" fill="#131722" font-weight="normal" text-anchor="start" textLength="64.5" lengthAdjust="spacingAndGlyphs">96.00000</text><text x="1567" y="56.8" font-size="16.0" fill="#131722" font-weight="normal" text-anchor="start" textLength="64.5" lengthAdjust="spacingAndGlyphs">98.00000</text><text x="1567" y="16.4" font-size="16.0" fill="#131722" font-weight="normal" text-anchor="start" textLength="72.5" lengthAdjust="spacingAndGlyphs">100.00000</text></g>
<path d="M1556,147 h80 a2,2 0 0 1 2,2 v19 a2,2 0 0 1 -2,2 h-80 z" fill="#feeb6b" shape-rendering="geometricPrecision"/><text x="1567" y="163.9" font-size="16.0" fill="#131722" font-weight="normal" text-anchor="start" textLength="64.5" lengthAdjust="spacingAndGlyphs">92.68800</text>
<path d="M1556,209 h80 a2,2 0 0 1 2,2 v19 a2,2 0 0 1 -2,2 h-80 z" fill="#ef5b8f" shape-rendering="geometricPrecision"/><text stroke="#ffffff" stroke-width="0.3" x="1567" y="226.2" font-size="16.0" fill="#ffffff" font-weight="normal" text-anchor="start" textLength="64.5" lengthAdjust="spacingAndGlyphs">89.64100</text>
<path d="M1556,264 h80 a2,2 0 0 1 2,2 v19 a2,2 0 0 1 -2,2 h-80 z" fill="#b565c9" shape-rendering="geometricPrecision"/><text stroke="#ffffff" stroke-width="0.3" x="1567" y="281.0" font-size="16.0" fill="#ffffff" font-weight="normal" text-anchor="start" textLength="64.5" lengthAdjust="spacingAndGlyphs">86.90300</text>
<path d="M1556,408 h80 a2,2 0 0 1 2,2 v19 a2,2 0 0 1 -2,2 h-80 z" fill="#b2ebf2" shape-rendering="geometricPrecision"/><text x="1567" y="425.0" font-size="16.0" fill="#131722" font-weight="normal" text-anchor="start" textLength="64.5" lengthAdjust="spacingAndGlyphs">79.66400</text>
<path d="M1556,431 h80 a2,2 0 0 1 2,2 v19 a2,2 0 0 1 -2,2 h-80 z" fill="#089981" shape-rendering="geometricPrecision"/><text stroke="#ffffff" stroke-width="0.3" x="1567" y="448.1" font-size="16.0" fill="#ffffff" font-weight="normal" text-anchor="start" textLength="64.5" lengthAdjust="spacingAndGlyphs">78.68400</text>
<path d="M1556,454 h80 a2,2 0 0 1 2,2 v19 a2,2 0 0 1 -2,2 h-80 z" fill="#ff9800" shape-rendering="geometricPrecision"/><text x="1567" y="471.2" font-size="16.0" fill="#131722" font-weight="normal" text-anchor="start" textLength="64.5" lengthAdjust="spacingAndGlyphs">77.72947</text>
<path d="M1556,500 h80 a2,2 0 0 1 2,2 v19 a2,2 0 0 1 -2,2 h-80 z" fill="#ffb74d" shape-rendering="geometricPrecision"/><text x="1567" y="516.9" font-size="16.0" fill="#131722" font-weight="normal" text-anchor="start" textLength="64.5" lengthAdjust="spacingAndGlyphs">75.27600</text>
<path d="M1556,665 h80 a2,2 0 0 1 2,2 v19 a2,2 0 0 1 -2,2 h-80 z" fill="#9575cd" shape-rendering="geometricPrecision"/><text stroke="#ffffff" stroke-width="0.3" x="1567" y="682.0" font-size="16.0" fill="#ffffff" font-weight="normal" text-anchor="start" textLength="64.5" lengthAdjust="spacingAndGlyphs">67.11800</text>
<path d="M1556,720 h80 a2,2 0 0 1 2,2 v19 a2,2 0 0 1 -2,2 h-80 z" fill="#ef5b8f" shape-rendering="geometricPrecision"/><text stroke="#ffffff" stroke-width="0.3" x="1567" y="737.0" font-size="16.0" fill="#ffffff" font-weight="normal" text-anchor="start" textLength="64.5" lengthAdjust="spacingAndGlyphs">64.38600</text>
<g shape-rendering="geometricPrecision">
<text x="1567" y="767.3" font-size="16.0" fill="#131722" font-weight="normal" text-anchor="start" textLength="38.6" lengthAdjust="spacingAndGlyphs">75.00</text>
<text x="1567" y="815.2" font-size="16.0" fill="#131722" font-weight="normal" text-anchor="start" textLength="38.6" lengthAdjust="spacingAndGlyphs">50.00</text>
</g>
<path d="M1556,783 h54.8 a2,2 0 0 1 2,2 v18.7 a2,2 0 0 1 -2,2 h-54.8 z" fill="#7e57c2" shape-rendering="geometricPrecision"/>
<text stroke="#ffffff" stroke-width="0.3" x="1567" y="799.3" font-size="16.0" fill="#ffffff" font-weight="normal" text-anchor="start" textLength="38.6" lengthAdjust="spacingAndGlyphs">58.92</text>
<g shape-rendering="geometricPrecision"><text x="169.5" y="882" font-size="15.5" fill="#131722" font-weight="normal" text-anchor="middle">Oct</text><text x="272.5" y="882" font-size="15.5" fill="#131722" font-weight="normal" text-anchor="middle">17</text><text x="374.5" y="882" font-size="15.5" fill="#131722" font-weight="normal" text-anchor="middle">Nov</text><text x="476.5" y="882" font-size="15.5" fill="#131722" font-weight="normal" text-anchor="middle">16</text><text x="578.5" y="882" font-size="15.5" fill="#131722" font-weight="normal" text-anchor="middle">Dec</text><text x="773.5" y="882" font-size="15.5" fill="#131722" font-weight="bold" text-anchor="middle">2024</text><text x="875.5" y="882" font-size="15.5" fill="#131722" font-weight="normal" text-anchor="middle">16</text><text x="987.5" y="882" font-size="15.5" fill="#131722" font-weight="normal" text-anchor="middle">Feb</text><text x="1182.5" y="882" font-size="15.5" fill="#131722" font-weight="normal" text-anchor="middle">Mar</text><text x="1377.5" y="882" font-size="15.5" fill="#131722" font-weight="normal" text-anchor="middle">Apr</text><text x="1479.5" y="882" font-size="15.5" fill="#131722" font-weight="normal" text-anchor="middle">16</text></g>
<rect x="9" y="9" width="1642" height="2" fill="#eef0f4"/>
<rect x="9" y="894" width="1642" height="2" fill="#eef0f4"/>
<rect x="9" y="9" width="2" height="887" fill="#eef0f4"/>
<rect x="1649" y="9" width="2" height="887" fill="#eef0f4"/>
<g shape-rendering="geometricPrecision" fill="#131722">
<path d="M10,907 h8 v10 h-4.4 v-6 h-3.6 z"/>
<circle cx="21.4" cy="909.1" r="1.9"/>
<path d="M24.2,907 h5.4 l-3.4,10 h-5.3 z"/>
<text x="33.2" y="916.5" font-size="12.75" fill="#2a2e39" font-weight="normal" text-anchor="start" textLength="70.2" lengthAdjust="spacingAndGlyphs">TradingView</text>
</g>
</svg></body></html>
